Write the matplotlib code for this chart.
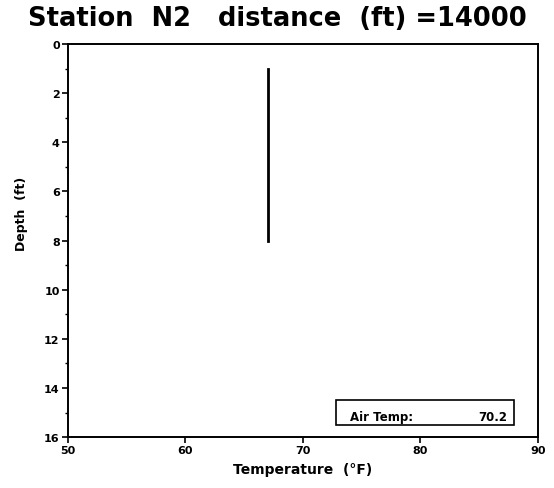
import matplotlib
matplotlib.use("Agg")
import matplotlib.pyplot as plt

# profile data
temperature = [67.0, 67.0]
depth = [1.0, 8.0]
air_temp = 70.2

x_ticks = [50, 60, 70, 80, 90]
y_ticks = [0, 2, 4, 6, 8, 10, 12, 14, 16]

plt.rcParams['font.family'] = ['DejaVu Sans']

fig = plt.figure(figsize=(5.54, 4.89), dpi=100)
ax = fig.add_axes([0.1227, 0.104, 0.971 - 0.1227, 0.908 - 0.104])

ax.plot(temperature, depth, color='black', linewidth=2)

ax.set_xlim(50, 90)
ax.set_ylim(16, 0)
ax.set_xticks(x_ticks)
ax.set_yticks(y_ticks)
ax.set_yticks(range(1, 16, 2), minor=True)
ax.tick_params(axis='both', direction='out', length=4, width=1.2, labelsize=8, pad=2)
ax.tick_params(axis='y', which='minor', direction='out', length=2, width=1)
for lbl in ax.get_xticklabels() + ax.get_yticklabels():
    lbl.set_fontweight('bold')
for s in ax.spines.values():
    s.set_linewidth(1.4)

ax.set_xlabel('Temperature  (°F)', fontsize=10, fontweight='bold', labelpad=5)
ax.set_ylabel('Depth  (ft)', fontsize=9, fontweight='bold', labelpad=12)
ax.yaxis.set_label_coords(-0.085, 0.57)

fig.text(0.5, 0.962, 'Station  N2   distance  (ft) =14000', ha='center', va='center',
         fontsize=18.5, fontweight='heavy')

# air temperature box
ax.text(0.6, 0.052, 'Air Temp:', transform=ax.transAxes, fontsize=8.5, fontweight='bold',
        va='center', ha='left', zorder=3)
ax.text(0.935, 0.052, f'{air_temp}', transform=ax.transAxes, fontsize=8.5, fontweight='bold',
        va='center', ha='right', zorder=3)
ax.add_patch(plt.Rectangle((0.57, 0.03), 0.38, 0.064, transform=ax.transAxes,
                           fill=False, edgecolor='black', linewidth=1.2))

plt.savefig('out.png', dpi=100)
